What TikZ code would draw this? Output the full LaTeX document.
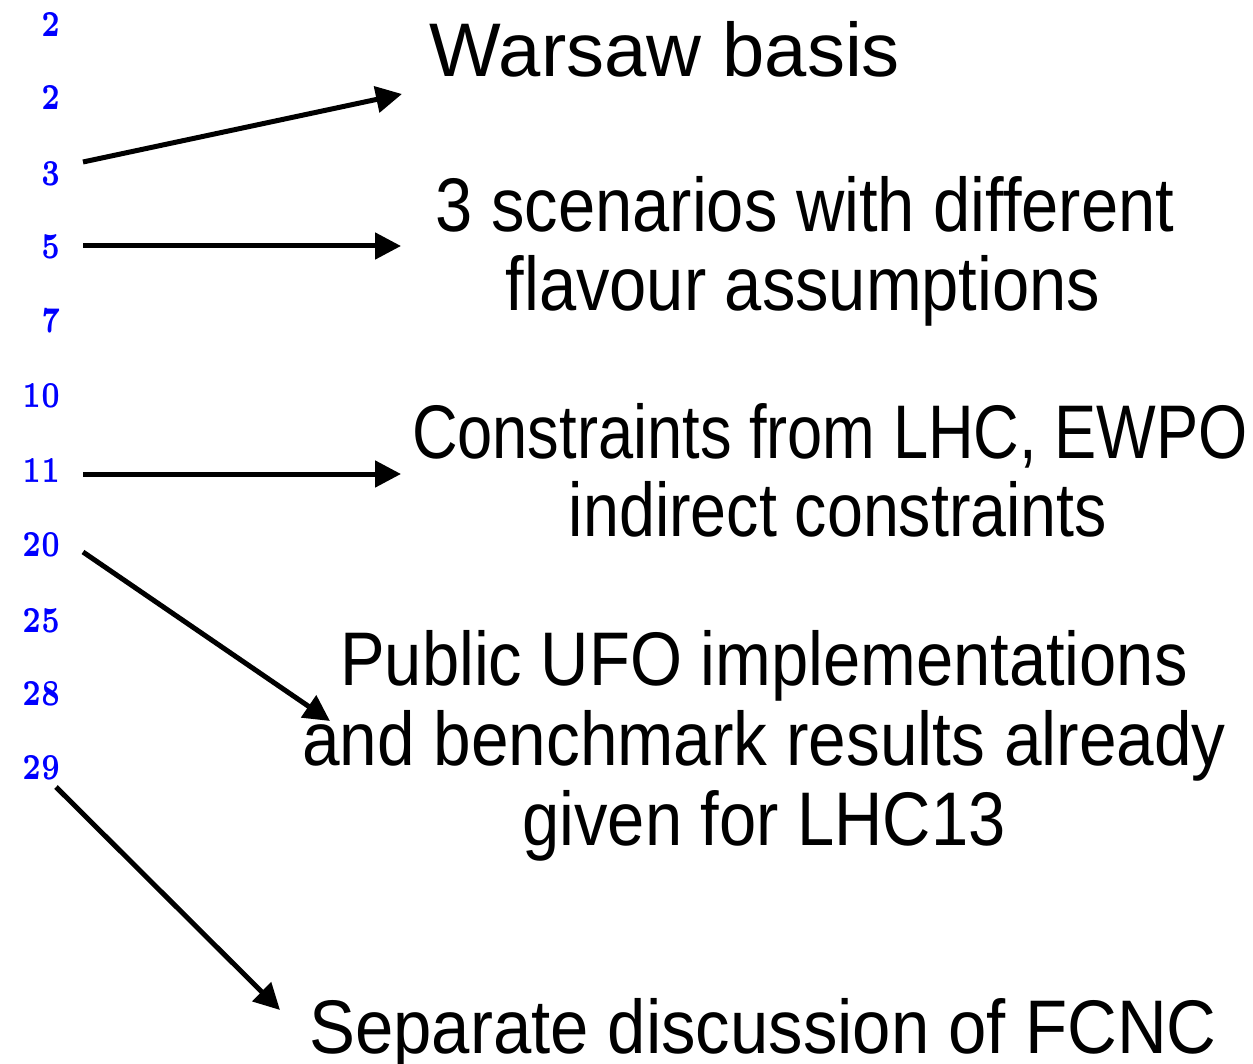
\documentclass[tikz,border=0pt]{standalone}
\usepackage{fontspec}
\newfontfamily\labelfont{Liberation Sans}
\newfontfamily\numfont{lmroman5-bold.otf}
\usetikzlibrary{arrows.meta}
\begin{document}
\begin{tikzpicture}[x=1pt,y=-1pt,
  num/.style={anchor=base east, inner sep=0pt, text=blue,
    font=\numfont\fontsize{33}{33}\selectfont, xscale=0.76, yscale=1.1, transform shape},
  lbl/.style={anchor=base, inner sep=0pt,
    font=\labelfont\fontsize{76}{78}\selectfont, xscale=0.88, transform shape},
  arr/.style={line width=5pt, -{Triangle[length=26pt,width=26pt]}}
]
\useasboundingbox (0,0) rectangle (1253,1064);
% line numbers
\node[num] (n1) at (61,37) {2};
\node[num] (n2) at (61,110) {2};
\node[num] (n3) at (61,186) {3};
\node[num] (n5) at (61,259) {5};
\node[num] (n7) at (61,333) {7};
\node[num] (n10) at (61,408) {10};
\node[num] (n11) at (61,482) {11};
\node[num] (n20) at (61,556) {20};
\node[num] (n25) at (61,632) {25};
\node[num] (n28) at (61,705) {28};
\node[num] (n29) at (61,779) {29};
% labels
\node[lbl, xscale=1.136] (warsaw) at (665,77) {Warsaw basis};
\node[lbl] (scen1) at (805,232) {3 scenarios with different};
\node[lbl] (scen2) at (803,311) {flavour assumptions};
\node[lbl, xscale=0.945] (cons1) at (830,458) {Constraints from LHC, EWPO};
\node[lbl, xscale=0.965] (cons2) at (838,536) {indirect constraints};
\node[lbl] (ufo1) at (764,685) {Public UFO implementations};
\node[lbl, xscale=1.01] (ufo2) at (764,765) {and benchmark results already};
\node[lbl] (ufo3) at (764,845) {given for LHC13};
\node[lbl, xscale=1.03] (fcnc) at (763,1053) {Separate discussion of FCNC};
% arrow end points
\coordinate (a1s) at (83,162);  \coordinate (a1e) at (402,94);
\coordinate (a2s) at (83,246);  \coordinate (a2e) at (401,246);
\coordinate (a3s) at (83,474);  \coordinate (a3e) at (401,474);
\coordinate (a4s) at (83,552);  \coordinate (a4e) at (330,721);
\coordinate (a5s) at (56,787);  \coordinate (a5e) at (280,1010);
\draw[arr] (a1s) -- (a1e);
\draw[arr] (a2s) -- (a2e);
\draw[arr] (a3s) -- (a3e);
\draw[arr] (a4s) -- (a4e);
\draw[arr] (a5s) -- (a5e);
\end{tikzpicture}
\end{document}
